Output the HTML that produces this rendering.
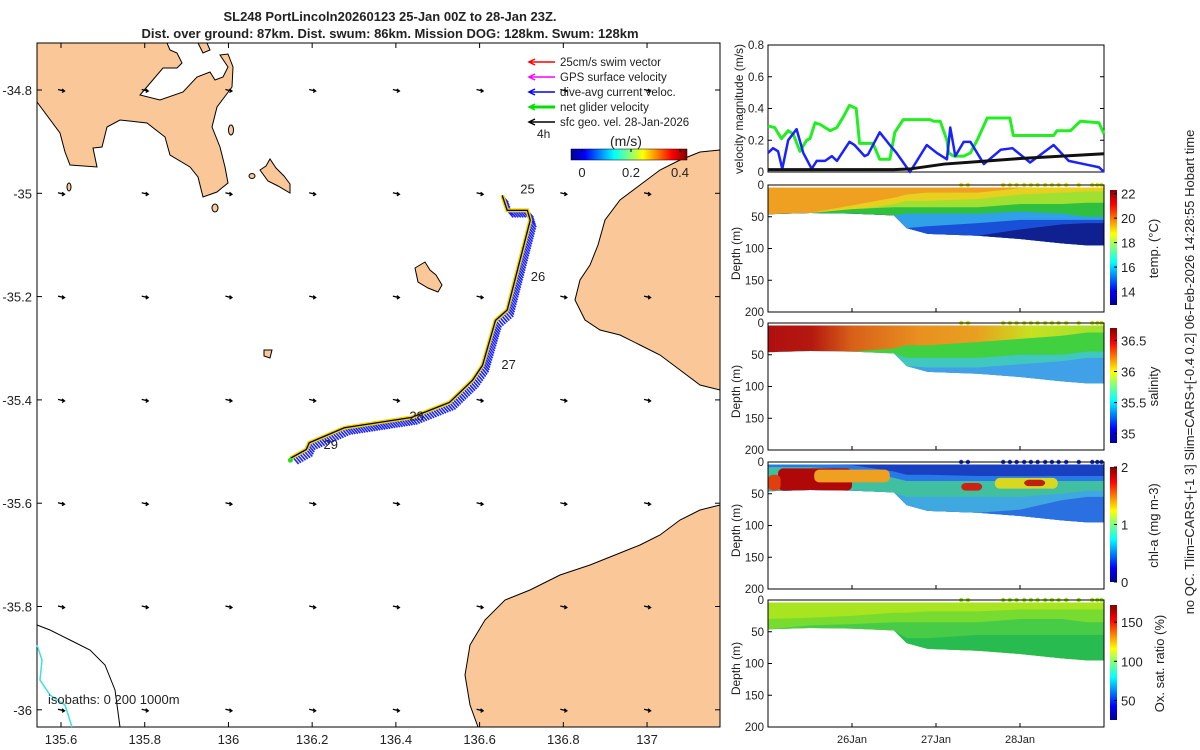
<!DOCTYPE html>
<html><head><meta charset="utf-8"><style>
body{margin:0;background:#fff;font-family:"Liberation Sans",sans-serif;overflow:hidden}
svg{display:block}
text{font-family:"Liberation Sans",sans-serif;fill:#222}
</style></head><body>
<svg id="root" width="1200" height="750" viewBox="0 0 1200 750">
<defs>
<linearGradient id="jet" x1="0" x2="1" y1="0" y2="0">
<stop offset="0" stop-color="#00008f"/><stop offset="0.12" stop-color="#0000ff"/><stop offset="0.37" stop-color="#00ffff"/><stop offset="0.5" stop-color="#7fff7f"/><stop offset="0.62" stop-color="#ffff00"/><stop offset="0.87" stop-color="#ff0000"/><stop offset="1" stop-color="#800000"/></linearGradient>
<linearGradient id="jetv" x1="0" x2="0" y1="1" y2="0">
<stop offset="0" stop-color="#00008f"/><stop offset="0.12" stop-color="#0000ff"/><stop offset="0.37" stop-color="#00ffff"/><stop offset="0.5" stop-color="#7fff7f"/><stop offset="0.62" stop-color="#ffff00"/><stop offset="0.87" stop-color="#ff0000"/><stop offset="1" stop-color="#800000"/></linearGradient>
<linearGradient id="salTop" x1="0" x2="1" y1="0" y2="0">
<stop offset="0" stop-color="#b01010"/><stop offset="0.13" stop-color="#b41810"/><stop offset="0.25" stop-color="#d86018"/><stop offset="0.45" stop-color="#e89020"/><stop offset="0.62" stop-color="#e8a020"/><stop offset="0.78" stop-color="#c8e020"/><stop offset="1" stop-color="#a0e030"/></linearGradient>
</defs>
<g>
<text x="390" y="21" text-anchor="middle" font-size="13" font-weight="bold">SL248 PortLincoln20260123 25-Jan 00Z to 28-Jan 23Z.</text>
<text x="390" y="38" text-anchor="middle" font-size="13" font-weight="bold">Dist. over ground: 87km. Dist. swum: 86km. Mission DOG: 128km. Swum: 128km</text>
</g>
<g id="map"></g>
<g id="vel"></g>
<g id="secs"></g>
<text transform="translate(1194,372) rotate(-90)" text-anchor="middle" font-size="13">no QC. Tlim=CARS+[-1 3] Slim=CARS+[-0.4 0.2] 06-Feb-2026 14:28:55 Hobart time</text>
</svg>
<script>
const NS="http://www.w3.org/2000/svg";
function mk(p,t,a,txt){const e=document.createElementNS(NS,t);for(const k in a)e.setAttribute(k,a[k]);if(txt!==undefined)e.textContent=txt;p.appendChild(e);return e;}

// ---------- MAP ----------
const lonTicks=[135.6,135.8,136,136.2,136.4,136.6,136.8,137];
const latTicks=[-34.8,-35,-35.2,-35.4,-35.6,-35.8,-36];
const trackLon=[136.654,136.666,136.714,136.721,136.678,136.666,136.638,136.607,136.583,136.528,136.437,136.277,136.193,136.186,136.148];
const trackLat=[-35.004,-35.033,-35.033,-35.052,-35.188,-35.226,-35.246,-35.333,-35.362,-35.405,-35.434,-35.454,-35.483,-35.496,-35.513];
const dayLabels=["25","26","27","28","29"];
const dayLon=[136.69,136.715,136.645,136.425,136.22];
const dayLat=[-35.0,-35.17,-35.34,-35.44,-35.495];
const mapX=l=>61+(l-135.6)*418.6;
const mapY=l=>90+(-34.8-l)*516.5;
const map=document.getElementById('map');
mk(map,'rect',{x:37,y:43,width:683,height:684,fill:'#fff',stroke:'#000'});
const landStyle={fill:'#fac898',stroke:'#000','stroke-width':1};
let l;
l=mk(map,'path',Object.assign({d:'M37,43 L167,43 L170,50 L177,53 L182,63 L177,68 L163,68 L140,95 L160,100 L183,92 L197,77 L210,72 L215,80 L223,77 L228,67 L220,55 L228,54 L233,67 L232,87 L217,107 L212,127 L220,147 L225,167 L228,183 L223,187 L217,192 L203,197 L198,177 L190,167 L170,155 L165,137 L147,123 L120,120 L107,127 L102,147 L93,148 L97,167 L70,165 L65,152 L60,133 L37,102 Z'},landStyle));

mk(map,'path',{d:'M198,43 L207,43 L210,50 L203,53 Z',fill:'#fac898',stroke:'#000'});
l=mk(map,'path',Object.assign({d:'M720,150 L700,152 L680,160 L660,170 L640,185 L620,200 L605,220 L598,245 L590,265 L580,280 L575,300 L585,320 L600,330 L620,335 L640,345 L660,355 L680,370 L700,385 L720,390 Z'},landStyle));

l=mk(map,'path',Object.assign({d:'M720,505 L700,510 L680,520 L660,535 L640,545 L615,555 L590,565 L560,575 L530,590 L505,600 L485,620 L470,645 L465,675 L470,705 L478,727 L720,727 Z'},landStyle));

l=mk(map,'path',Object.assign({d:'M415,268 L425,262 L430,270 L436,275 L442,285 L438,292 L428,288 L418,282 Z'},landStyle));

mk(map,'path',{d:'M260,170 L266,166 L270,159 L276,168 L284,176 L290,184 L290,193 L278,186 L268,181 Z',fill:'#fac898',stroke:'#000'});
mk(map,'ellipse',{cx:231,cy:130,rx:2.5,ry:5,fill:'#fac898',stroke:'#000'});
mk(map,'ellipse',{cx:69,cy:187,rx:2,ry:4,fill:'#fac898',stroke:'#000'});
mk(map,'ellipse',{cx:215,cy:208,rx:3,ry:4,fill:'#fac898',stroke:'#000'});
mk(map,'ellipse',{cx:252,cy:176,rx:3,ry:2.5,fill:'#fac898',stroke:'#000'});
mk(map,'path',{d:'M264,350 L272,350 L270,358 L264,356 Z',fill:'#fac898',stroke:'#000'});
mk(map,'path',{d:'M37,625 L50,630 L70,640 L90,650 L105,665 L115,690 L120,727',fill:'none',stroke:'#000'});
mk(map,'path',{d:'M37,645 L42,660 L40,680 L50,695 L65,705 L72,727',fill:'none',stroke:'#3ee0e0','stroke-width':1.5});
lonTicks.forEach(lo=>latTicks.forEach(la=>{const x=mapX(lo),y=mapY(la);
 const a=mk(map,'path',{d:`M${x-3},${y-0.5} L${x+3},${y+1} M${x+1},${y-1} L${x+3.5},${y+1} L${x+1},${y+2.5}`,stroke:'#000','stroke-width':1.3,fill:'none'});
 }));
let pts=trackLon.map((v,i)=>mapX(v)+','+mapY(trackLat[i])).join(' ');
for(let i=0;i<trackLon.length-1;i++){const x1=mapX(trackLon[i]),y1=mapY(trackLat[i]),x2=mapX(trackLon[i+1]),y2=mapY(trackLat[i+1]);
 const n=Math.max(2,Math.round(Math.hypot(x2-x1,y2-y1)/2.5));
 for(let k=0;k<n;k++){const x=x1+(x2-x1)*k/n,y=y1+(y2-y1)*k/n;mk(map,'line',{x1:x,y1:y,x2:x+6,y2:y+7,stroke:'#1a22ff','stroke-width':1.6});}}
let tr=mk(map,'polyline',{points:pts,fill:'none',stroke:'#f2d400','stroke-width':4});

mk(map,'polyline',{points:pts,fill:'none',stroke:'#000','stroke-width':1.3});
mk(map,'circle',{cx:mapX(trackLon[trackLon.length-1]),cy:mapY(trackLat[trackLat.length-1])+2,r:2.5,fill:'#22dd22'});
dayLabels.forEach((d,i)=>{const t=mk(map,'text',{x:mapX(dayLon[i])+3,y:mapY(dayLat[i]),'font-size':13},d);});
lonTicks.forEach(v=>{const x=mapX(v);mk(map,'line',{x1:x,y1:727,x2:x,y2:722,stroke:'#000'});mk(map,'line',{x1:x,y1:43,x2:x,y2:48,stroke:'#000'});
 const t=mk(map,'text',{x:x,y:744,'font-size':13,'text-anchor':'middle'},String(v));});
latTicks.forEach(v=>{const y=mapY(v);mk(map,'line',{x1:37,y1:y,x2:42,y2:y,stroke:'#000'});mk(map,'line',{x1:720,y1:y,x2:715,y2:y,stroke:'#000'});
 const t=mk(map,'text',{x:32,y:y+5,'font-size':13,'text-anchor':'end'},String(v));});
mk(map,'text',{x:48,y:704,'font-size':13},'isobaths:  0   200   1000m');
const legLabels=["25cm/s swim vector","GPS surface velocity","dive-avg current veloc.","net glider velocity","sfc geo. vel. 28-Jan-2026"];
const legColors=["#ff0000","#ff00ff","#0000ff","#00e000","#000000"];
legLabels.forEach((s,i)=>{const y=62+i*15;const g=mk(map,'g',{});
 mk(g,'line',{x1:530,y1:y,x2:555,y2:y,stroke:legColors[i],'stroke-width':i==3?3:1.5});
 mk(g,'path',{d:`M535,${y-3} L529,${y} L535,${y+3}`,stroke:legColors[i],fill:'none','stroke-width':1.5});
 mk(g,'text',{x:560,y:y+4,'font-size':11.5},s);});
mk(map,'text',{x:537,y:138,'font-size':12},'4h');
mk(map,'text',{x:610,y:146,'font-size':14},'(m/s)');
mk(map,'rect',{x:571,y:149,width:116,height:11,fill:'url(#jet)',stroke:'#000','stroke-width':0.5});
[[0,582],[0.2,631],[0.4,680]].forEach(([v,x])=>{mk(map,'text',{x:x,y:177,'font-size':13,'text-anchor':'middle'},String(v));mk(map,'line',{x1:x,y1:149,x2:x,y2:152,stroke:'#000'});});

// ---------- VELOCITY ----------
const velTime=[25.0,25.08,25.16,25.24,25.3,25.38,25.46,25.5,25.56,25.62,25.74,25.82,25.9,25.97,26.05,26.09,26.25,26.33,26.45,26.51,26.61,26.93,26.97,27.05,27.13,27.15,27.21,27.33,27.41,27.49,27.61,27.88,27.92,28.4,28.44,28.6,28.72,28.94,29.0];
const velGreen=[0.29,0.28,0.21,0.26,0.24,0.13,0.2,0.21,0.31,0.3,0.26,0.28,0.35,0.42,0.4,0.18,0.18,0.08,0.08,0.25,0.33,0.33,0.32,0.32,0.2,0.12,0.1,0.1,0.12,0.2,0.34,0.34,0.23,0.23,0.26,0.26,0.32,0.31,0.24];
const velBlueT=[25.0,25.06,25.12,25.17,25.24,25.34,25.42,25.52,25.58,25.68,25.76,25.82,25.97,26.03,26.15,26.19,26.33,26.45,26.53,26.69,26.89,27.01,27.13,27.17,27.23,27.33,27.41,27.57,27.77,27.91,28.12,28.4,28.58,28.76,28.94,29.0];
const velBlue=[0.12,0.15,0.13,0.02,0.2,0.27,0.12,0.02,0.07,0.07,0.1,0.07,0.19,0.17,0.1,0.11,0.25,0.17,0.12,0.0,0.17,0.12,0.08,0.28,0.1,0.19,0.19,0.05,0.14,0.15,0.06,0.17,0.07,0.05,0.03,0.0];
const velBlackT=[25.0,26.5,26.7,27.1,27.5,28.0,28.5,29.0];
const velBlack=[0.015,0.015,0.02,0.05,0.065,0.085,0.1,0.115];
const velTicks=[0,0.2,0.4,0.6,0.8];
const tx=t=>768+(t-25)*84;
const vy=v=>172-v*158.75;
const vel=document.getElementById('vel');
mk(vel,'rect',{x:768,y:45,width:336,height:127,fill:'#fff',stroke:'#000'});
velTicks.forEach(v=>{mk(vel,'line',{x1:768,y1:vy(v),x2:772,y2:vy(v),stroke:'#000'});mk(vel,'line',{x1:1104,y1:vy(v),x2:1100,y2:vy(v),stroke:'#000'});const t=mk(vel,'text',{x:764,y:vy(v)+4,'font-size':11.5,'text-anchor':'end'},String(v));});
mk(vel,'text',{transform:'translate(743,109) rotate(-90)','text-anchor':'middle','font-size':12},'velocity magnitude (m/s)');
function line(T,V,c,w,name){const p=mk(vel,'polyline',{points:T.map((t,i)=>tx(t)+','+vy(V[i])).join(' '),fill:'none',stroke:c,'stroke-width':w,'stroke-linejoin':'round'});}
line(velTime,velGreen,'#22ee22',3,'net-glider-velocity-line');
line(velBlueT,velBlue,'#1a22ff',2.5,'dive-avg-current-line');
line(velBlackT,velBlack,'#111',3,'sfc-geo-velocity-line');

// ---------- SECTIONS ----------
const dayTickT=[26,27,28];
const dayTickL=["26Jan","27Jan","28Jan"];
const depthTicks=[0,50,100,150,200];
const bottomT=[25,25.5,26,26.5,26.65,26.9,27.5,28.0,28.5,28.8,29];
const bottomD=[46,44,45,48,68,77,80,85,92,95,95];
const tempColors=['#f0a020','#e8d020','#a0e030','#30c040','#30a0e8','#1850d8','#102090'];
const tempTops=[[0,0,0,0,0,0,0,0,0,0,0],[46,44,32,20,15,12,12,5,2,0,0],[46,44,40,30,25,25,22,15,12,10,10],[46,44,38,35,35,35,35,30,30,28,28],[46,44,45,48,45,45,45,42,45,50,50],[46,44,45,48,68,65,60,55,55,55,55],[46,44,45,48,68,77,80,70,62,60,60]];
const salColors=['url(#salTop)','#40d040','#40c8c0','#40a0e8'];
const salTops=[[0,0,0,0,0,0,0,0,0,0,0],[46,44,45,40,35,35,30,25,20,15,15],[46,44,45,48,55,55,55,50,50,45,45],[46,44,45,48,68,70,70,65,60,55,55]];
const chlColors=['#1840c0','#2878e8','#40c0a0','#40a8e0','#2a70e0'];
const chlTops=[[0,0,0,0,0,0,0,0,0,0,0],[3,3,5,15,20,20,22,22,22,22,22],[8,8,12,25,30,30,30,30,30,30,30],[46,44,45,48,55,55,55,55,50,45,45],[46,44,45,48,68,77,80,75,60,55,55]];
const oxColors=['#a8e420','#78dc30','#48cc48','#28bc50'];
const oxTops=[[0,0,0,0,0,0,0,0,0,0,0],[30,28,25,20,20,18,18,15,15,15,15],[46,40,38,35,35,35,35,30,30,35,35],[46,44,45,48,60,60,55,55,55,55,55]];
const chlPatchT0=[25.12,25.55,25.0,27.3,27.7,28.05];
const chlPatchT1=[26.0,26.45,25.15,27.55,28.45,28.3];
const chlPatchD0=[10,12,20,33,25,28];
const chlPatchD1=[45,32,45,45,42,38];
const chlPatchC=['#b00808','#f0a020','#e04010','#d02010','#d8d820','#c02010'];
const surfDotT=[27.3,27.38,27.8,27.88,27.96,28.05,28.13,28.21,28.3,28.38,28.46,28.55,28.7,28.86,28.92,28.97];
const panels=[
 {y:185,name:'temperature-section',label:'temp. (°C)',ticks:[14,16,18,20,22],vmin:12.9,vmax:22.3,colors:tempColors,tops:tempTops},
 {y:323,name:'salinity-section',label:'salinity',ticks:[35,35.5,36,36.5],vmin:34.85,vmax:36.7,colors:salColors,tops:salTops},
 {y:462,name:'chla-section',label:'chl-a (mg m-3)',ticks:[0,1,2],vmin:0,vmax:2,colors:chlColors,tops:chlTops},
 {y:600,name:'oxygen-section',label:'Ox. sat. ratio (%)',ticks:[50,100,150],vmin:25,vmax:172,colors:oxColors,tops:oxTops}
];
const secs=document.getElementById('secs');
panels.forEach((p,pi)=>{
 const g=mk(secs,'g',{});
 const H=127,dy=d=>p.y+d*H/200;
 mk(g,'rect',{x:768,y:p.y,width:336,height:H,fill:'#fff'});
 const clip=mk(g,'clipPath',{id:'c'+pi});
 mk(clip,'path',{d:'M768,'+dy(4)+' L1104,'+dy(4)+' '+bottomT.slice().reverse().map((t,i)=>'L'+tx(t)+','+dy(bottomD[bottomD.length-1-i])).join(' ')+' Z'});
 const cg=mk(g,'g',{'clip-path':`url(#c${pi})`});
 p.colors.forEach((c,li)=>{
  const path='M768,'+(p.y+H)+' '+bottomT.map((t,i)=>'L'+tx(t)+','+dy(p.tops[li][i])).join(' ')+' L1104,'+(p.y+H)+' Z';
  const e=mk(cg,'path',{d:path,fill:c});
 });
 if(pi==2){chlPatchT0.forEach((t0,i)=>{const e=mk(cg,'rect',{x:tx(t0),y:dy(chlPatchD0[i]),width:tx(chlPatchT1[i])-tx(t0),height:dy(chlPatchD1[i])-dy(chlPatchD0[i]),fill:chlPatchC[i],rx:5});});}
 const dotC=['#d8e020','#c8e020','#1830c0','#98e020'][pi];
 surfDotT.forEach(t=>mk(g,'circle',{cx:tx(t),cy:p.y,r:2.2,fill:dotC}));
 mk(g,'rect',{x:768,y:p.y,width:336,height:H,fill:'none',stroke:'#000'});
 depthTicks.forEach(d=>{mk(g,'line',{x1:768,y1:dy(d),x2:772,y2:dy(d),stroke:'#000'});const t=mk(g,'text',{x:764,y:dy(d)+4,'font-size':11.5,'text-anchor':'end'},String(d));});
 dayTickT.forEach(t=>mk(g,'line',{x1:tx(t),y1:p.y+H,x2:tx(t),y2:p.y+H-4,stroke:'#000'}));
 mk(g,'text',{transform:`translate(740,${p.y+H/2+5}) rotate(-90)`,'text-anchor':'middle','font-size':12},'Depth (m)');
 const cy0=p.y+5,cy1=p.y+H-7,cv=v=>cy1-(v-p.vmin)/(p.vmax-p.vmin)*(cy1-cy0);
 const cb=mk(g,'rect',{x:1110,y:cy0,width:7,height:cy1-cy0,fill:'url(#jetv)'});
 
 p.ticks.forEach(v=>{mk(g,'line',{x1:1117,y1:cv(v),x2:1114,y2:cv(v),stroke:'#000'});mk(g,'text',{x:1121,y:cv(v)+5,'font-size':13},String(v));});
 mk(g,'text',{transform:`translate(${pi==3?1164:1158},${p.y+H/2}) rotate(-90)`,'text-anchor':'middle','font-size':13},p.label);
});
dayTickT.forEach((t,i)=>{const e=mk(secs,'text',{x:tx(t),y:743,'font-size':11,'text-anchor':'middle'},dayTickL[i]);});
</script>
</body></html>
